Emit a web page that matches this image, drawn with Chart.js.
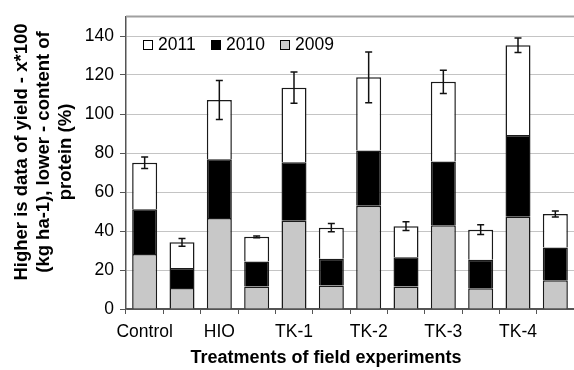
<!DOCTYPE html>
<html>
<head>
<meta charset="utf-8">
<script src="https://cdn.jsdelivr.net/npm/chart.js@4.4.1/dist/chart.umd.min.js"></script>
<style>
  html, body { margin: 0; padding: 0; background: #fff; }
  #wrap { width: 574px; height: 370px; position: relative; }
</style>
</head>
<body>
<div id="wrap"><canvas id="c"></canvas></div>
<script>
const categories = ['Control', '', 'HIO', '', 'TK-1', '', 'TK-2', '', 'TK-3', '', 'TK-4', ''];
const series2009 = [28.2, 10.8, 46.7, 11.5, 45.2, 12.0, 53.0, 11.5, 43.0, 10.7, 47.3, 14.7];
const series2010 = [23.0, 10.2, 30.1, 12.8, 30.0, 13.8, 28.3, 15.0, 32.7, 14.5, 41.9, 16.8];
const series2011 = [23.8, 13.2, 30.4, 12.7, 38.3, 15.9, 37.5, 16.0, 40.8, 15.5, 46.1, 17.2];
const errors = [3.0, 2.0, 10.0, 0.5, 8.0, 2.1, 13.0, 2.3, 6.0, 2.5, 3.7, 1.5];
const yTicks = [0, 20, 40, 60, 80, 100, 120, 140];
const yTitleLines = ['Higher is data of yield - x*100', '(kg ha-1), lower - content of', 'protein (%)'];
const xTitle = 'Treatments of field experiments';

const FONT = '"Liberation Sans", Arial, Helvetica, sans-serif';

const errorBarPlugin = {
  id: 'errorBars',
  afterDatasetsDraw(chart) {
    const ctx = chart.ctx;
    const y = chart.scales.y;
    const meta = chart.getDatasetMeta(chart.data.datasets.length - 1);
    ctx.save();
    ctx.strokeStyle = '#111';
    ctx.lineWidth = 1.5;
    categories.forEach((c, i) => {
      const total = series2009[i] + series2010[i] + series2011[i];
      const x = meta.data[i].x;
      const yt = y.getPixelForValue(total + errors[i]);
      const yb = y.getPixelForValue(total - errors[i]);
      ctx.beginPath();
      ctx.moveTo(x, yt); ctx.lineTo(x, yb);
      ctx.moveTo(x - 3.5, yt); ctx.lineTo(x + 3.5, yt);
      ctx.moveTo(x - 3.5, yb); ctx.lineTo(x + 3.5, yb);
      ctx.stroke();
    });
    ctx.restore();
  }
};

const decorPlugin = {
  id: 'decor',
  afterDraw(chart) {
    const ctx = chart.ctx;
    const area = chart.chartArea;
    ctx.save();
    // top border of plot frame
    ctx.strokeStyle = '#a0a0a0';
    ctx.lineWidth = 2;
    ctx.beginPath();
    ctx.moveTo(area.left, area.top);
    ctx.lineTo(chart.width, area.top);
    ctx.stroke();

    // legend (reverse order: 2011, 2010, 2009)
    ctx.font = '17.5px ' + FONT;
    ctx.textBaseline = 'middle';
    ctx.fillStyle = '#000';
    const ds = chart.data.datasets.slice().reverse();
    const lx = [143, 211, 280];
    ds.forEach((d, k) => {
      ctx.fillStyle = d.backgroundColor;
      ctx.fillRect(lx[k], 40, 10, 10);
      ctx.strokeStyle = '#000';
      ctx.lineWidth = 1;
      ctx.strokeRect(lx[k] + 0.5, 40.5, 9, 9);
      ctx.fillStyle = '#000';
      ctx.textAlign = 'left';
      ctx.fillText(d.label, lx[k] + 15, 45.5);
    });

    // y axis title
    ctx.font = 'bold 18.5px ' + FONT;
    ctx.fillStyle = '#000';
    ctx.textAlign = 'center';
    ctx.textBaseline = 'alphabetic';
    const baselines = [26.5, 48.5, 70.5];
    yTitleLines.forEach((t, k) => {
      ctx.save();
      ctx.translate(baselines[k], 152);
      ctx.rotate(-Math.PI / 2);
      ctx.fillText(t, 0, 0);
      ctx.restore();
    });

    // x axis title
    ctx.font = 'bold 18px ' + FONT;
    ctx.textAlign = 'center';
    ctx.fillText(xTitle, 326, 363);
    ctx.restore();
  }
};

const common = { borderColor: '#1a1a1a', borderWidth: 1.5, barPercentage: 0.67, categoryPercentage: 1.0 };

new Chart(document.getElementById('c'), {
  type: 'bar',
  data: {
    labels: categories,
    datasets: [
      Object.assign({ label: '2009', data: series2009, backgroundColor: '#c8c8c8' }, common),
      Object.assign({ label: '2010', data: series2010, backgroundColor: '#000000' }, common),
      Object.assign({ label: '2011', data: series2011, backgroundColor: '#ffffff' }, common)
    ]
  },
  options: {
    responsive: true,
    maintainAspectRatio: false,
    animation: false,
    layout: { padding: { left: 0, right: -4, top: 9, bottom: 0 } },
    plugins: { legend: { display: false }, tooltip: { enabled: false }, title: { display: false } },
    scales: {
      x: {
        stacked: true,
        grid: { display: true, drawOnChartArea: false, drawTicks: true, tickLength: 5, color: '#555', offset: true },
        border: { display: true, color: '#555', width: 1.5 },
        ticks: { autoSkip: false, maxRotation: 0, minRotation: 0, color: '#000', padding: 8, font: { family: FONT, size: 17.5 } },
        afterFit(scale) { scale.height = 61; }
      },
      y: {
        stacked: true,
        min: 0,
        max: 150,
        afterBuildTicks(scale) { scale.ticks = yTicks.map(v => ({ value: v })); },
        grid: {
          drawOnChartArea: true,
          color: (c) => (c.tick && c.tick.value === 0) ? '#555' : '#c4c4c4',
          tickColor: '#555',
          tickLength: 6,
          drawTicks: true,
          lineWidth: 1
        },
        border: { display: true, color: '#555', width: 1.5 },
        ticks: { color: '#000', padding: 6, font: { family: FONT, size: 17.5 } },
        afterFit(scale) { scale.width = 126; }
      }
    }
  },
  plugins: [errorBarPlugin, decorPlugin]
});
</script>
</body>
</html>
